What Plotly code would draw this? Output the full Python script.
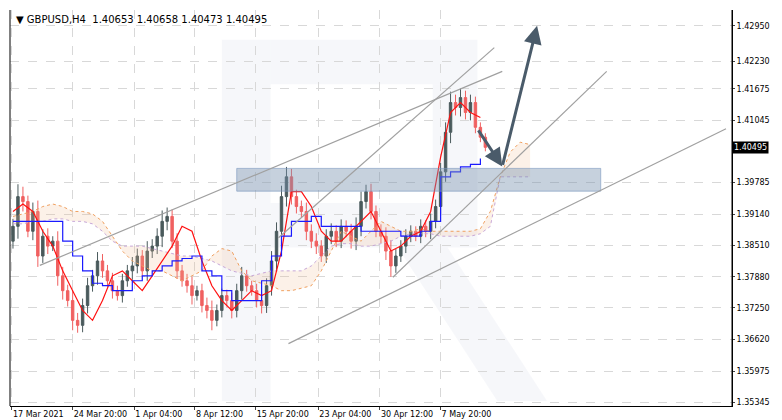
import plotly.graph_objects as go

closes = [1.3890,1.3950,1.3940,1.3880,1.3920,1.3830,1.3870,1.3850,1.3860,1.3790,
          1.3760,1.3740,1.3700,1.3690,1.3730,1.3770,1.3790,1.3820,1.3800,1.3780,
          1.3760,1.3750,1.3780,1.3800,1.3810,1.3830,1.3800,1.3840,1.3850,1.3870,
          1.3900,1.3910,1.3860,1.3800,1.3780,1.3770,1.3750,1.3760,1.3730,1.3720,
          1.3700,1.3720,1.3750,1.3740,1.3720,1.3760,1.3790,1.3770,1.3760,1.3740,
          1.3730,1.3770,1.3820,1.3880,1.3950,1.3990,1.3950,1.3930,1.3920,1.3880,
          1.3860,1.3850,1.3830,1.3870,1.3880,1.3860,1.3890,1.3880,1.3860,1.3890,
          1.3940,1.3960,1.3920,1.3880,1.3870,1.3840,1.3810,1.3830,1.3850,1.3870,
          1.3880,1.3870,1.3890,1.3880,1.3900,1.3930,1.4000,1.4080,1.4140,1.4130,
          1.4150,1.4120,1.4140,1.4090,1.4070,1.40495]
first_open = 1.3860
wick_pips = [15,25,20,12,18,22,14,16,10,20,18,12,20,15,14,16,12,18,14,12,
             16,10,14,12,18,15,12,20,14,16,22,18,14,16,12,14,18,10,14,16,
             20,12,14,12,16,14,18,12,10,14,16,15,20,18,22,20,16,14,12,18,
             14,16,12,14,16,12,14,12,15,18,20,14,16,12,14,18,22,14,12,14,
             12,10,14,12,16,14,18,20,22,16,18,14,16,12,10,8]

tenkan = [1.3920,1.3935,1.3920,1.3880,1.3850,1.3800,1.3760,1.3720,1.3700,1.3740,
          1.3790,1.3800,1.3780,1.3760,1.3790,1.3820,1.3850,1.3890,1.3880,1.3820,
          1.3770,1.3740,1.3720,1.3740,1.3760,1.3750,1.3760,1.3840,1.3960,1.3960,
          1.3930,1.3880,1.3860,1.3860,1.3880,1.3900,1.3920,1.3880,1.3840,1.3850,
          1.3870,1.3880,1.3920,1.4030,1.4120,1.4140,1.4120,1.4110]
kijun = [1.3900,1.3900,1.3900,1.3900,1.3900,1.3860,1.3830,1.3800,1.3775,1.3770,
         1.3760,1.3760,1.3780,1.3790,1.3800,1.3810,1.3820,1.3825,1.3830,1.3800,
         1.3790,1.3760,1.3740,1.3740,1.3740,1.3780,1.3830,1.3870,1.3900,1.3900,
         1.3910,1.3890,1.3890,1.3890,1.3890,1.3880,1.3880,1.3880,1.3880,1.3870,
         1.3870,1.3880,1.3900,1.3990,1.4000,1.4010,1.4015,1.4027]
span_a = [1.3910,1.3915,1.3920,1.3930,1.3935,1.3930,1.3920,1.3920,1.3915,1.3900,
          1.3870,1.3840,1.3820,1.3810,1.3800,1.3800,1.3790,1.3780,1.3790,1.3800,
          1.3830,1.3845,1.3840,1.3800,1.3780,1.3775,1.3770,1.3760,1.3760,1.3765,
          1.3770,1.3800,1.3840,1.3880,1.3870,1.3860,1.3880,1.3900,1.3890,1.3880,
          1.3880,1.3885,1.3880,1.3880,1.3880,1.3880,1.3880,1.3885,1.3920,1.3990,
          1.4040,1.4060,1.4055]
span_b = [1.3895,1.3895,1.3900,1.3900,1.3905,1.3905,1.3900,1.3900,1.3895,1.3880,
          1.3860,1.3850,1.3850,1.3850,1.3845,1.3840,1.3835,1.3830,1.3830,1.3825,
          1.3820,1.3810,1.3800,1.3795,1.3790,1.3795,1.3800,1.3800,1.3800,1.3800,
          1.3810,1.3830,1.3850,1.3855,1.3855,1.3850,1.3850,1.3855,1.3860,1.3870,
          1.3875,1.3875,1.3875,1.3870,1.3870,1.3870,1.3870,1.3875,1.3890,1.3990,
          1.3990,1.3990,1.3990]

y_ticks = [1.42950,1.42230,1.41675,1.41045,1.39785,1.39140,1.38510,
           1.37880,1.37250,1.36620,1.35975,1.35345]
x_tick_idx = [-0.2,12,24.4,36.6,48.8,61.4,73.8,86]
x_tick_labels = ["17 Mar 2021","24 Mar 20:00","1 Apr 04:00","8 Apr 12:00",
                 "15 Apr 20:00","23 Apr 04:00","30 Apr 12:00","7 May 20:00"]
last_price = 1.40495
header = "GBPUSD,H4  1.40653 1.40658 1.40473 1.40495"

def ix(px): return (px - 3) / 5
def py(y): return 1.4295 - (y - 16) * 0.0002

opens = [first_open] + closes[:-1]
highs = [max(o, c) + w * 1e-4 for o, c, w in zip(opens, closes, wick_pips)]
lows = [min(o, c) - w * 1e-4 for o, c, w in zip(opens, closes, wick_pips)]
idx = list(range(len(closes)))
idx2 = [i * 2 for i in range(len(tenkan))]
idxc = [i * 2 for i in range(len(span_a))]

fig = go.Figure()
fig.add_trace(go.Scatter(x=idxc, y=span_b, mode="lines", line=dict(color="#c8a8d8", width=1, dash="dot"), hoverinfo="skip"))
fig.add_trace(go.Scatter(x=idxc, y=span_a, mode="lines", line=dict(color="#f0a060", width=1, dash="dot"),
                         fill="tonexty", fillcolor="rgba(240,190,150,0.22)", hoverinfo="skip"))
fig.add_trace(go.Candlestick(x=idx, open=opens, high=highs, low=lows, close=closes,
                             increasing=dict(line=dict(color="#4a5a5c", width=1), fillcolor="#4a5a5c"),
                             decreasing=dict(line=dict(color="#f06060", width=1), fillcolor="#f06060"),
                             whiskerwidth=0))
fig.add_trace(go.Scatter(x=idx2, y=tenkan, mode="lines", line=dict(color="#ff1010", width=1.2)))
fig.add_trace(go.Scatter(x=idx2, y=kijun, mode="lines", line=dict(color="#1a1aff", width=1.2, shape="hv")))

wm = "rgba(228,233,240,0.35)"
shapes = []
shapes.append(dict(type="rect", x0=ix(213), x1=ix(262), y0=py(395), y1=py(30), fillcolor=wm, line_width=0, layer="below"))
shapes.append(dict(type="rect", x0=ix(262), x1=ix(470), y0=py(75), y1=py(30), fillcolor=wm, line_width=0, layer="below"))
shapes.append(dict(type="rect", x0=ix(262), x1=ix(470), y0=py(240), y1=py(195), fillcolor=wm, line_width=0, layer="below"))
shapes.append(dict(type="rect", x0=ix(425), x1=ix(470), y0=py(195), y1=py(75), fillcolor=wm, line_width=0, layer="below"))
shapes.append(dict(type="path", path=f"M {ix(390)},{py(240)} L {ix(440)},{py(240)} L {ix(540)},{py(395)} L {ix(490)},{py(395)} Z",
                   fillcolor=wm, line_width=0, layer="below"))
shapes.append(dict(type="rect", x0=ix(228), x1=ix(594), y0=py(183), y1=py(160), fillcolor="rgba(120,145,175,0.42)",
                   line=dict(color="rgba(120,150,190,0.6)", width=1)))
for (a, b, c, d) in [(30, 258, 495, 62), (270, 230, 487, 38), (280, 337, 720, 120), (385, 270, 600, 62)]:
    shapes.append(dict(type="line", x0=ix(a), y0=py(b), x1=ix(c), y1=py(d), line=dict(color="#a0a0a0", width=1.2)))
shapes.append(dict(type="line", x0=1, x1=1, y0=0, y1=1, xref="paper", yref="paper", line=dict(color="black", width=1)))
shapes.append(dict(type="line", x0=0, x1=0, y0=0, y1=1, xref="paper", yref="paper", line=dict(color="black", width=1)))

annotations = [
    dict(x=ix(495), y=py(158), ax=ix(470), ay=py(120), xref="x", yref="y", axref="x", ayref="y",
         showarrow=True, arrowhead=2, arrowsize=1.2, arrowwidth=3, arrowcolor="#4a5b6a", text=""),
    dict(x=ix(530), y=py(16), ax=ix(495), ay=py(158), xref="x", yref="y", axref="x", ayref="y",
         showarrow=True, arrowhead=2, arrowsize=1.2, arrowwidth=3, arrowcolor="#4a5b6a", text=""),
    dict(x=0.005, y=0.995, xref="paper", yref="paper", xanchor="left", yanchor="top", showarrow=False,
         text="▼ " + header, font=dict(size=10, color="black", family="DejaVu Sans")),
    dict(x=1, y=last_price, xref="paper", yref="y", xanchor="left", showarrow=False, bgcolor="black",
         text=f"{last_price:.5f}", font=dict(size=8, color="white", family="DejaVu Sans"), borderpad=1),
]

fig.update_layout(
    width=782, height=420, margin=dict(l=2, r=58, t=2, b=22),
    paper_bgcolor="white", plot_bgcolor="white", showlegend=False,
    shapes=shapes, annotations=annotations,
    xaxis=dict(range=[ix(0), ix(726)], rangeslider=dict(visible=False), tickvals=x_tick_idx, ticktext=x_tick_labels,
               showgrid=True, gridcolor="#d8d8d8", griddash="dash", zeroline=False, showline=True, linecolor="black",
               ticks="outside", ticklen=3, ticklabelposition="outside right", tickangle=0,
               tickfont=dict(size=8, family="DejaVu Sans", color="black")),
    yaxis=dict(range=[py(400), py(0)], side="right", tickvals=y_ticks, ticktext=[f"{v:.5f}" for v in y_ticks],
               showgrid=True, gridcolor="#d8d8d8", griddash="dash", zeroline=False, showline=True, linecolor="black",
               ticks="outside", ticklen=2, tickfont=dict(size=8, family="DejaVu Sans", color="black")),
)
fig.write_html("out.html")
